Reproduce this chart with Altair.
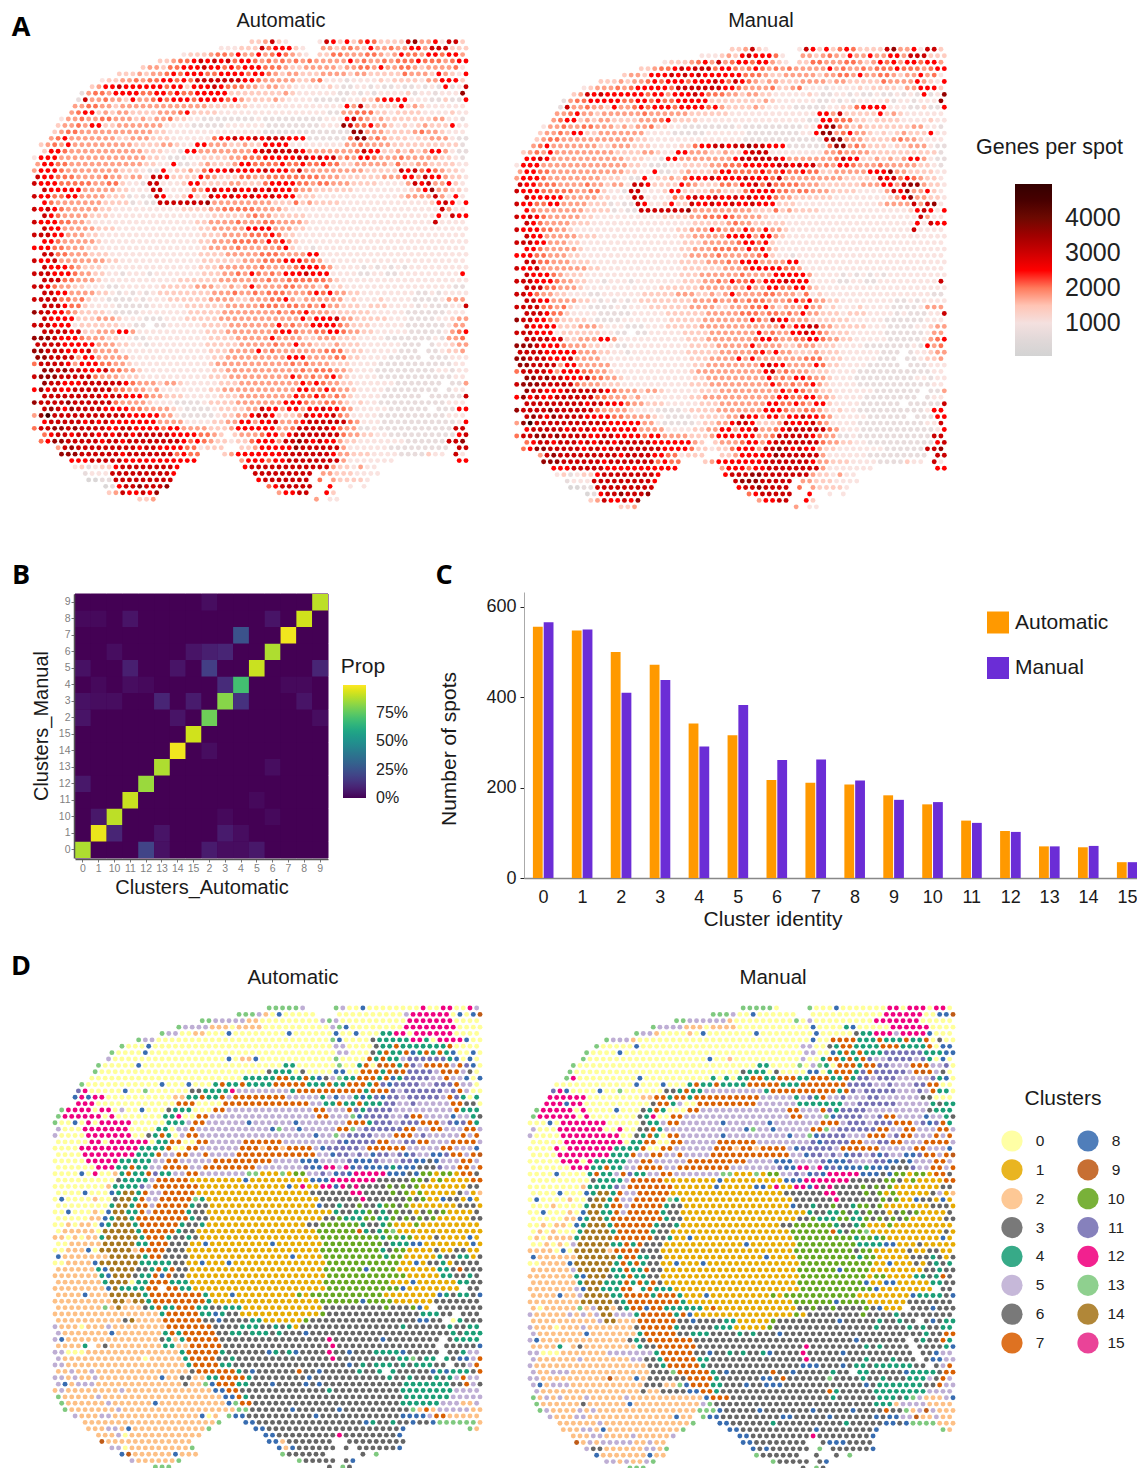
import altair as alt
import pandas as pd

# ---------- Panel A: expression level (0 grey ... 9 black) per spot, 64 columns per row
A_AUTO = """
........ ........ ........ ........ 334732.. ..276363 56533337 84462773
........ ........ ........ ...22233 37566632 ..443454 36445446 64777333
........ ........ ......23 33455464 46456543 2.335544 45543465 54665664
........ ........ ..334556 76767566 54545454 54444464 54454555 65554566
........ ........ 34435566 67665656 66555433 44444344 55464455 43444452
........ ....3334 34456566 65566665 66543443 33444434 43333354 44364326
........ ..233445 45566565 77777776 65444443 34522212 22232333 32446663
........ 34667666 66656636 66765554 43443322 22232112 21211211 21216127
.......1 45546666 55665655 66666333 33333432 22222112 12122223 12212228
......17 44544364 45656665 66665643 33343222 21111122 33566662 22113116
......44 55443444 44444444 44333333 22222222 22222264 73333363 43222222
.....456 63434433 33444563 33322222 22222222 22211445 55332333 32222322
....2445 44554443 43445332 21111111 12111111 11122267 54343333 33344221
...34454 66334444 44422221 11112222 22111111 11222875 56443232 34333622
...34554 44444444 44332222 22222222 22111111 11111118 84443333 45443222
..456444 44443344 43332222 22566766 76777666 11111158 84543332 33444211
.3454644 44444443 33344322 66444334 33666622 22222244 54444333 33333331
.3665444 44444444 33322166 44444444 67777776 44444445 76633434 34664211
26664444 44444444 43321112 23333445 55666667 76767454 66544454 44443321
46655444 44444444 33226112 34333466 55556556 55655334 44443533 44333322
46665444 44444333 21162334 35666766 66766657 44444444 43333376 75654332
76655544 44544344 27763333 65433355 44555555 55444333 33344466 47664332
76665555 54455322 17722236 63333443 33566665 54554443 33322224 76744632
.7666664 44443322 27722225 46766766 76766654 43333332 22222223 46844332
76655664 44433312 11762236 33766766 76676663 33222222 22222234 44474262
.6544444 44333312 11777777 78444444 44433353 43333222 22222222 22367626
76765444 44332222 22222233 33445555 54444322 22222222 22222222 22227422
.7654444 33322222 22222222 22333334 54433333 22222222 22222222 22262766
76665544 32222222 22222222 33444454 44554444 32222222 22222222 22272222
.7664444 43332222 22222222 33444446 66644433 22222222 22222222 22222222
77766444 33222222 22222222 23334444 55565332 22222222 22222222 22222222
.6654444 43222222 22222222 33444555 54656432 22222222 22222222 22222222
66655444 33222222 22222222 23444454 44445632 21222222 22222222 22222222
.7755444 33322222 22222222 33334444 45554444 66222222 22222222 22222222
76674444 44433222 22222222 23333334 44555666 55422222 22222222 22222222
.7666543 33222222 22222222 33344444 45444456 66542222 12121212 22222222
77766654 43322122 21222222 23334454 65454666 76662222 11221122 22222226
.7775544 43222222 22222333 33344444 44544555 55543222 22222222 22222222
77654433 22211222 22233333 44433434 64444554 44352322 22222222 22222211
.7766444 43321212 12333333 33444544 54555444 56564433 22222222 11212222
77775545 32211112 12223333 33444433 44455643 44444423 22232222 11112444
.7776553 22221111 12222233 33334444 45554554 54644333 23332222 12111227
87766543 33321111 22222223 33334444 44445455 64443333 33222221 11111222
.7666633 34443222 11122233 33344444 44444446 46667443 33332221 11122344
77766623 33333221 1.112222 23333444 44446454 46666543 33222221 11111244
.7777673 34446642 22222222 23334444 44456654 45566544 33222221 11112456
88876665 44433221 12222222 22333344 44464444 33444333 22221111 11121445
77776666 64443322 12222222 23333344 44454464 43334333 22222211 1.122344
88777666 74444222 22222222 22333444 46454444 44455533 32222211 1.112334
88777746 64444422 22222222 22334444 44444666 44445533 22221111 1.111222
57777646 66554432 22222222 22344444 44444454 54443332 22211111 11111122
.8878776 66755443 22222222 22334444 44444445 45554432 22111111 11122122
78887777 75444333 22222222 22333444 44444465 45456432 22211111 11111122
.8776667 77777654 44344322 22233344 44444446 56544332 22222111 1111.114
68676677 77775544 43422222 22334444 44444446 65565443 22221111 1111.122
.7777777 77677666 54433322 22233344 44444465 56545432 22211111 1.111117
87777877 77775444 43222111 12333344 44444666 54455432 32211111 11111222
.7876877 77666655 44443211 11233334 47664664 66766542 22221111 11.11166
48977777 77777766 66644211 11123344 67763334 76667542 22211111 11111222
.6777776 76766666 66444422 22334466 46674456 77777754 22211111 11111126
57788787 77766776 66656644 44333466 66664457 77776544 11211111 11111177
.5677677 76767767 77776666 5543.344 45664677 77777544 33221111 11111167
.5688777 77677677 77777765 65433233 56664778 76766433 22222221 11111778
...47877 77777776 77666655 2333..33 46666687 77777422 22221111 11111.77
....8887 77777677 77777565 5...3466 66666777 77776443 33222211 11322.72
.....666 77777666 66666666 ......46 66566777 77777422 22222... ......66
......23 12336777 777776.. .......6 77777777 77774332 422..... ........
.......1 22277777 77776... ........ 77777777 7.443332 222..... ........
........ 00117777 77777... ........ .6777777 7.5.4333 32...... ........
........ ..016778 7778.... ........ ..567777 7..6..2. 2....... ........
........ ...34766 768..... ........ ....4667 7..63... ........ ........
........ .......3 34...... ........ ........ .4.22... ........ ........
""".strip().split("\n")

A_MAN = """
........ ........ ........ ........ 334732.. ..276363 56533337 84462773
........ ........ ........ ...22234 36766652 ..443454 36446446 64777333
........ ........ ......23 33456474 56656643 2.335544 45543465 64665664
........ ........ ..334556 76777566 54565454 54444464 54454555 65554566
........ ........ 34436667 67676666 66555433 44444344 55464455 43446452
........ ....3334 34456566 65666765 76543443 33444434 43333354 44464326
........ ..234445 45666665 77777776 65444453 34522212 22232333 32446663
........ 34767666 66656646 66765554 43443322 22232112 21211211 21216128
.......1 45566666 55665655 66666333 33333432 22222112 12122223 12212228
......17 44544364 45656665 66665643 33343222 21111122 33566662 22113116
......44 56443444 44454444 44333333 22222222 22222664 73333363 43222222
.....456 63434433 33444563 33322222 22222222 22211665 55332333 32222322
....2445 44554443 43445332 21111111 12111111 11122678 54343333 33344221
...34454 66334444 44422221 11112222 22111111 11226884 56443232 34333622
...34554 44444444 44332222 22222222 22111111 11111178 84443333 45443222
..456444 44443344 43332222 33566776 77877666 11111158 84543332 33444211
.3454644 44444443 33344322 66444334 33677722 22222244 54444333 33333331
.6676444 44444444 33322166 44444444 67777776 44444445 76633434 34664211
26664444 44444444 43321112 23333445 55666667 76767454 66544454 44443321
46655444 44444444 33226112 34333466 55556556 55655334 44446668 44333322
46665444 44444333 21162334 35666766 66766657 44444444 43333376 75654332
76655544 44544344 27763333 65433355 46675755 55444333 33344466 47884332
76665555 54455322 17722236 63333443 33566665 54554443 33322224 76844632
.7666664 44443322 27722225 46766766 76766654 43333332 22222223 46844332
76655664 44433312 11762236 33766766 76676663 33222222 22222234 44474782
.6544444 44333312 11777777 78444444 44433353 43333222 22222222 22367626
76765444 44332222 22222233 33445556 54444322 22222222 22222222 22227422
.7654444 33322222 22222222 22333334 54433333 22222222 22222222 22262766
76665544 32222222 22222222 33444654 54654644 32222222 22222222 22272222
.7664444 43332222 22222222 33444446 66646643 22222222 22222222 22222222
77766444 33222222 22222222 23334444 45665632 22222222 22222222 22222222
.6654444 43222222 22222222 33444555 54656432 22222222 22222222 22222222
66655444 33222222 22222222 23444454 44445632 21222222 22222222 22222222
.7755444 33322222 22222222 33334445 46664444 66222222 22222222 22222222
76674444 44433222 22222222 23333334 44566666 55422222 22222222 22222222
.7666543 33222222 22222222 33344444 45444466 66642222 12121212 22222222
77766654 43322122 21222222 23334454 65564666 76662222 11221122 22222227
.7775544 43222222 22222333 33344444 44644665 56643222 22222222 22222222
77654433 22211222 22233333 44433434 64444554 44352322 22222222 22222211
.7766444 43321212 12333333 33444544 54555444 56564433 22222222 11212222
77775545 32211112 12223333 33444433 44455643 44464423 22232222 11112444
.7776553 22221111 12222233 33334444 45554554 54644333 23332222 12111227
87766543 33321111 22222223 33334444 44465476 64443333 33222221 11111222
.7666633 34443222 11122233 33344444 44444446 46677443 33332221 11122344
77766623 33333221 1.112222 23333444 44446454 46676543 33222221 11111244
.7777673 34446642 22222222 23334444 44456654 45566544 33222221 11112456
88876665 44433221 12222222 22333344 44464444 33444333 22221111 11121645
77776666 64443322 12222222 23333344 44456464 43334333 22222211 1.122344
88777666 74444222 22222222 22333444 46464444 44455533 32222211 1.112334
88777746 64444422 22222222 22334444 44446766 44446533 22221111 1.111222
57777646 66554432 22222222 22344444 44444674 54443332 22211111 11111122
.8878776 66755443 22222222 22334444 44444645 46654432 22111111 11122122
78887777 75444333 22222222 22333444 44444465 45456432 22211111 11111122
.8776667 77777654 44344322 22233344 44444446 56544332 22222111 1111.114
68676677 77775544 43422222 22334444 44444446 65566443 22221111 1111.122
.7777777 77677666 54433322 22233344 44444665 56546632 22211111 1.111117
87777877 77775444 43222111 12333344 44444666 54455432 32211111 11111266
.7876877 77666655 44443211 11233334 47664664 66766542 22221111 11.11166
48977777 77777766 66644211 11123344 67763334 76667542 22211111 11111227
.6777776 76766666 66444422 22334466 46674456 77777754 22211111 11111126
57788787 77766776 66656644 44333466 66664457 77776544 11211111 11111177
.5677677 76767767 77776666 6643.344 45664677 77777544 33221111 11111167
.5688777 77677677 77777766 66533233 56664778 76766433 22222221 11111778
...47877 77777776 77776655 2333..33 46666687 77777422 22221111 11111.77
....8887 77777677 77777565 5...3466 66666777 77776443 33222211 11322.72
.....666 77777666 66666666 ......46 66566777 77777422 22222... ......66
......23 12336777 777776.. .......6 77788777 77774332 422..... ........
.......1 22277777 77776... ........ 78887777 7.443332 222..... ........
........ 00117777 77777... ........ .6778777 7.5.4333 32...... ........
........ ..016778 7778.... ........ ..567777 7..6..2. 2....... ........
........ ...34766 768..... ........ ....4667 7..63... ........ ........
........ .......3 34...... ........ ........ .4.22... ........ ........
""".strip().split("\n")

# ---------- Panel D: cluster per spot (hex digit), 64 columns per row
D_AUTO = """
........ ........ ........ ........ ddddd5.. ..d50080 0000000c 00cc00c5
........ ........ ........ ...ddd52 0800000. ..000000 00005ccc ccc08089
........ ........ ......dd 55555220 00000000 5d500000 00000ccc cccc0000
........ ........ ..d55552 22022220 00000000 05d80000 0000cccc cccc0000
........ ........ d5500220 00800000 00080000 00800800 044cc0cc cccc0000
........ ....d550 00000000 00000000 00000000 0d800003 44444cc4 0cccc800
........ ..d00080 00000000 00000000 00000000 00550000 34474444 44470000
........ d0000800 00000000 00000000 00000000 00550003 47447847 47480080
........ 50000000 00000000 00802280 00000000 00d00007 47445bbb bbb48080
......d0 00008000 00000000 00000000 00440000 00d00470 97747b57 77757b80
......d0 00000000 00000000 00000000 34440300 00880077 74797bbb b5797530
.....000 00000000 00000000 00004444 47744748 35d44777 4784bbbb 55755808
....d000 00000000 80008000 47447444 47777744 47447774 7b8bbbb5 5bbb7550
...bc000 00800d00 00003344 44c55555 55547777 77777747 77b5bbbb bb5b7500
...8c8cc 00000000 00224474 47577777 77755555 45855484 b8bb5bbb bb57b404
...ccc00 00000000 00777000 07777777 77777755 44744744 4bb55b55 55577330
.dcccc0c c0500800 03444000 77555555 55555557 75557b4b bbb55555 55557444
dcccccc0 c0000000 44c00775 55555555 55555557 7555d8bb bb55b775 55585543
d0080c0c cccc0000 04445775 55555855 55558555 55557774 bbb5bbb7 775b8b74
5000cccc ccc00004 40557555 55555555 8d558555 5577d5bb bbbb7755 77555775
50000ccc cccc0034 74057755 55555555 55555558 55d5bbbb 5557775b 55555757
00000cc0 cccccc04 47700775 55557777 77555555 55b8bbbb 7755bb77 55577775
0000cccc ccccc444 47007755 55557772 77277775 8bbbbb57 77777555 55775558
0000cccc cccc4447 55775575 55577777 77777775 58bb5b58 bb5b8b55 88b77579
00000ccc cc444445 57755555 77777777 75555888 5555b888 b555bb88 38555775
000000cc c4474455 77775577 77777755 55555b88 cc5c8b88 88488833 3b557757
000080c0 0247447b 44557755 55555dd1 11d1aa55 b58b8ccc cc88838a a1aa1773
00000000 03444457 77771111 11118111 11111188 8ccccccc 33333aa3 1a111177
00000000 24444b57 77777711 11111111 11181c11 cc8c3c33 33a3a3a1 11111133
00008000 84ee4755 77777111 11111111 11111133 3333cc33 33a3a1a1 11113512
08000020 03ee4755 77777d41 11111111 11111111 333333c3 33333a3a 11833181
00000000 4ee47757 77774331 11111111 11111118 33433a33 4aa3a111 11113331
00800020 8ee44757 77774331 11111111 11111111 1143344a 343a3313 a3a11113
00000228 4ee47777 77774331 11111111 11111111 33a444aa 44a3a3a3 a1111133
00202208 4eee4777 77743341 11111111 11111133 aaaaaa43 34a111a1 11111111
0222220e eeee4777 77433111 11111111 1111111a aaaaa743 4ad11111 11111111
22020224 eeeee477 74334311 11111111 11111111 aaaaaaaa a4aa4a11 13111181
0022222e eeee4477 73331181 11111111 81111111 aaaaaaaa a3444881 11111181
0022280e eeee2777 73331111 11111111 11111111 aaaaaaaa a43aa111 13113311
82222222 eeeee477 33331111 11111111 11181111 aaaaaaaa a4aa1111 14334413
0022228e eeeee444 44331181 11811111 11111111 1aaaaaaa aaaa1181 33413333
22222248 eeee3347 47331111 11111111 11111111 aaaaaa8a aaa11111 14437333
22222224 8eee3447 87331111 11111111 11111111 1aaaaaaa aaaaa111 11443343
22222224 eee04477 74441111 11111111 11111111 aaaaaaaa aa111811 11114433
22222222 8e444477 .7744111 11111111 11111111 1aaaaaaa aaaa8111 11111.33
22228222 eeeee477 77777741 11811111 1111a1aa aaaaaaaa a1111111 18434438
22222222 2ee2ee47 77777774 11111111 11111111 aaaaaa8a aaa11111 13333333
2222222d 2e222347 44777443 34441111 11111111 33333333 3a333a81 .3333333
22222222 22222222 47777744 84331111 11111111 a3333333 33333334 4433.333
22222222 223e2222 77777733 83333441 11111a33 33333333 33333388 33.04333
52220222 52222222 27777777 33334443 34341333 33333333 33334333 33343344
52222222 82222222 47477777 33443444 34333833 33333333 33333333 33343444
58222222 22222222 34247777 73333333 33333333 3c333333 38333333 33.34444
22224.23 22222222 44227777 73333333 33333333 3c333333 33333333 3.333338
55000222 22222222 22247777 74333333 84348333 3c338333 44448333 33.33455
52222222 22222022 22247777 33433333 33333333 3c333333 33344d34 4.438857
55222222 22222222 22224777 74433333 33333333 33338343 44434344 433.3357
22522522 22222222 22223777 77743833 33337338 33333433 4.433333 84844437
55252252 22222222 82233224 47777433 33333383 33333333 33433433 34345755
58255522 22222222 222322d8 77744333 83333838 33333333 33334444 44433753
25222222 22522222 22222222 88773333 33333333 34333333 33334444 44445555
d2222252 22222222 22222222 28874333 33333333 33333333 33334444 44455555
.d222222 52222228 22222222 228d7733 33333333 33333333 33334444 44555225
.d222222 25222222 22222222 222dd333 33383333 33833333 33333d27 25555522
...52225 52222222 22222280 2.d88333 33333338 33333333 33338888 57722222
....2222 22222222 22222222 d...8833 33333333 33333384 33433833 8dddddd2
.....222 55282222 2222222d ......88 33333333 33333333 33338... ......d2
......22 25022222 222222.. .......8 83333333 33c33333 3338.... ........
.......9 22222222 22222... ........ 88233333 33..3333 33333... ........
........ 55022222 2222d... ........ .8283333 33.3.333 3338.... ........
........ ..892222 228222.. ........ ..d33333 3.....3. d....... ........
........ ...52222 22d..... ........ ....d333 33.38... ........ ........
........ .......d dd...... ........ ........ .3.d3... ........ ........
""".strip().split("\n")

D_MAN = """
........ ........ ........ ........ ddddd0.. ..d00080 000000cc 0ccc0cc0
........ ........ ........ ...ddd50 08000000 ..000000 00000ccc ccc00889
........ ........ ......dd 55555520 00000000 d0500000 0000cccc ccc00000
........ ........ ..d55552 22022220 00000000 00800004 800000cc cccc0000
........ ........ d5520000 20800000 00800000 00080000 0344ccc5 cccc8000
........ ...d5552 00000000 00000000 00000000 00800777 74447444 74470300
........ ..d00000 80000000 00000000 00000000 05500347 74444777 44447088
........ d0000800 00000000 00000000 00000000 05500847 47444bbb bbb44488
........ d0000000 00000000 00080020 00000000 05004774 747b55bb bb5b4080
......d0 00000000 00000000 00000000 00440000 d05d4077 7477bb55 577755b0
......d0 00000000 00000000 00000000 34440300 00880477 74b7bbbb b5797530
.....dc0 00000000 80000000 00040404 47744777 44777447 4bb5bbb5 5555b480
....0000 00000000 80008000 47447444 47777744 47777777 bbbb55b5 55bb7700
...bc800 00800d00 00003347 44555555 55547777 77777747 b5bbbbb5 55b57440
...ccccc c0000000 02277477 47777777 77755555 45b4755b 555bb555 55533000
..ccc8cc 00000000 00377450 07777777 77555555 44444445 5bbbbbb5 55554344
.dccccc0 c0000800 03474000 77555555 55555557 75557b4b bbb55555 55553444
dcccccc0 c0000000 34c00775 55555555 55555557 7555d8bb bb55b775 55585543
00080ccc cccc0000 03445775 55555855 55558555 55557775 bbb5bbb7 775b8b74
5000cccc ccc00c00 33745555 55555555 8d558555 5577d5bb bbbb7755 77555775
50000ccc cccccc00 34740775 55555855 55555558 55d8bbbb 5557775b 77555757
00000ccc cccccc04 47700775 55557777 77555555 55b8bbbb 7755bb77 55577775
0000c0cc ccccc444 47007755 55557772 77277775 8bbbbb57 77777555 55775558
0000cccc cccc4447 55775575 55577777 77777775 58bb5b58 bb5b8b55 88b77579
00000ccc 0c444445 57755555 77777777 75555888 5555b888 b555bb88 38555775
000000cc c4474455 77775577 77777755 55555b88 cc5c8b88 88488833 3b557757
00008000 0474457b 44557755 55555dd1 11d1aa55 b58b8ccc cc88838a a1aa1773
00000000 03444457 77771111 11118111 11111188 8ccccccc 33333aa3 1a111177
00000000 24444b57 77777711 11118111 11881c11 cc8c3c33 33a3a3a1 11111133
00008000 84ee4755 77777111 11111111 11111133 3333cc33 33a3a1a1 11113512
08000020 03ee4755 77777d41 11111111 11111111 333333c3 33333a3a 11833181
00020000 4ee47757 77774331 11111111 11111118 33433a33 4aa3a111 11113331
00800020 8ee44757 77774331 11111111 11111111 1143344a 343a3313 a3a11113
00000228 4ee47777 77774331 11111111 11111111 33a444aa 44a3a3a3 a1111133
00202208 4eee4777 77743341 11111111 11111133 aaaaaa43 34a111a1 11111111
02020004 eeee4777 77433111 11111111 1111111a aaaaa743 aad11111 11111131
02022224 eeeee777 77733411 81111111 11111111 aaaaaaaa a4aa4a11 11111181
0020205e eeee4474 73331111 11111111 81111111 aaaaaaaa a4444881 11311111
2222080e eeee2777 73331111 11111111 11111111 aaaaaaaa a3aa1111 13113311
8222222e eeeee477 44331111 11111111 11181111 aaaaaaaa a4aa1111 13334313
0022228e eeeee474 74331181 11811111 11111111 1aaaaaaa aaaa1181 11313434
2222225e eeee4474 47331111 11111111 11111111 aaaaaa8a aaa11111 11133433
22222224 8eee3447 44331111 11111111 11111111 1aaaaaaa aaa1aa11 11443473
22222224 eee44474 74731111 11111111 11111111 aaaaaaaa aa811881 11114433
22222225 8ee44477 .4744411 11111111 11111111 1aaaaaaa aaaa8111 11111.33
22228225 eeee4477 77477741 11811111 1111a1aa aaaaaaaa a1111111 18444438
22222222 eeeee347 77777774 11111111 11111111 aaaaaa8a aaa11111 13333333
2022222d 25ee2347 78774444 44171111 11111111 33a33a33 33a38111 .3338333
52222252 525ee555 47777747 81111111 11111111 a1333333 33a33334 33333333
22222222 225ee222 77777733 83333441 1111a333 33333383 33334334 33.38344
52220222 52222222 37777743 33334441 1111a333 33333333 33334333 34343344
52222222 82222222 47777733 44433334 34333833 33333333 33333333 33343377
58222222 22222223 43777777 73333333 33333333 33333333 38333333 3.343374
22224.23 22222222 43377777 73333333 33333333 3c333333 33434333 3.333348
55000222 22225555 55547777 73383343 43348333 3c333338 33333333 33.33855
52222225 22222225 53347777 74433333 33333333 3c333333 33433343 33.38855
52222222 22222222 22334777 77433333 33333333 38883338 34434444 4433.357
52255522 22222222 22333d77 77743833 33337338 33333433 .4433333 84444377
55222222 22229222 82333333 77774333 33388373 33333d33 33433433 34445375
58255522 22222222 233322d8 77744333 83388833 33333333 33834444 44433755
.5222222 22222222 23223333 88774333 33333333 33333743 33334444 44445555
d2525222 52222252 22222222 22877733 33333333 33333433 33334443 4d522258
.d222222 32222228 22222222 225d3333 33333333 33333333 33334442 55552222
.d522225 25222222 22222222 2ddd8333 33833333 33833333 83333733 d2595222
...52225 52222222 22222282 2.d88333 33333388 33333833 33338388 55922522
....2222 22522222 22222222 d...8833 33334333 33333334 33333883 8dddd222
.....222 55282222 2222222d ......88 33333333 33383333 33338... ......d2
......22 25522225 222225.. .......8 83333333 33c33333 3338.... ........
.......9 25255555 22522... ........ 88333333 33..3888 3333.... ........
........ 53322222 2552d... ........ .8383333 33.d.333 3338.... ........
........ ..822222 22822... ........ ..d33333 3..3..3. d....... ........
........ ...55252 25d..... ........ ....d333 33.38... ........ ........
........ .......d dd...... ........ ........ .3.d3... ........ ........
""".strip().split("\n")

# ---------- Panel B
B_ORDER = ["0", "1", "10", "11", "12", "13", "14", "15", "2", "3", "4", "5", "6", "7", "8", "9"]
B_DIAGONAL = [.88, .97, .90, .92, .85, .88, .98, .93, .78, .82, .70, .92, .88, .98, .93, .90]
B_OFF_X = ["2", "0", "1", "11", "6", "4", "10", "15", "2", "3", "0", "11", "14", "2", "9", "1", "11", "12", "3", "7", "8",
           "0", "1", "10", "13", "15", "4", "8", "0", "14", "9", "2", "6", "0", "5", "1", "3", "6", "10", "13", "3", "4",
           "12", "13", "2", "3", "4", "5"]
B_OFF_Y = ["9", "8", "8", "8", "8", "7", "6", "6", "6", "6", "5", "5", "5", "5", "5", "4", "4", "4", "4", "4", "4",
           "3", "3", "3", "3", "3", "3", "3", "2", "2", "2", "14", "13", "12", "11", "10", "10", "10", "1", "1", "1", "1",
           "0", "0", "0", "0", "0", "0"]
B_OFF_V = [.03, .02, .02, .05, .05, .25, .03, .05, .08, .10, .04, .08, .05, .18, .10, .02, .03, .02, .12, .02, .02,
           .04, .03, .03, .10, .07, .14, .05, .05, .05, .03, .03, .03, .06, .02, .06, .02, .02, .10, .05, .07, .03,
           .20, .04, .07, .03, .03, .06]

# ---------- Panel C
C_CLUSTERS = list(range(16))
C_AUTO = [556, 548, 500, 472, 342, 316, 217, 211, 207, 183, 163, 127, 104, 70, 68, 35]
C_MANUAL = [566, 550, 410, 438, 291, 383, 261, 262, 216, 173, 168, 122, 102, 70, 71, 35]
C_SERIES = ["Automatic", "Manual"]
C_COLORS = ["#ff9900", "#6b2dd6"]

# ---------- Shared scales
LEVEL_GENES = [350, 800, 1100, 1400, 1750, 2050, 2500, 3050, 3600, 4600]
GENE_STOPS = [57, 800, 1150, 1500, 2000, 2500, 3500, 4200, 4970]
GENE_COLORS = ["#d3d3d3", "#e8dcdc", "#fde4e0", "#ffc4b4", "#ff7a5c", "#ff0000", "#a00000", "#5a0a00", "#000000"]
CLUSTER_CODES = list("0123456789abcdef")
CLUSTER_NAMES = [str(i) for i in range(16)]
CLUSTER_COLORS = ["#ffff99", "#e6ab02", "#fdc086", "#666666", "#1b9e77", "#beaed4", "#666666", "#d95f02",
                  "#386cb0", "#bf5b17", "#66a61e", "#7570b3", "#f0027f", "#7fc97f", "#a6761d", "#e7298a"]

FONT = "Liberation Sans"
OFF = 8


def parse(rows):
    out = []
    for r, row in enumerate(rows[:73]):
        chars = row.replace(" ", "")[:64]
        for c, ch in enumerate(chars):
            if ch != ".":
                out.append({"col": c + (0.5 if r % 2 else 0), "row": r, "code": ch})
    return pd.DataFrame(out)


def x_enc(left, right):
    return alt.X("col:Q", axis=None, scale=alt.Scale(domain=[0, 63.5], range=[left - OFF, right - OFF], nice=False, zero=False))


def y_enc(top, bottom):
    return alt.Y("row:Q", axis=None, scale=alt.Scale(domain=[0, 72], range=[top - OFF, bottom - OFF], nice=False, zero=False))


def gene_panel(rows, box, show_legend):
    df = parse(rows)
    df["genes"] = [LEVEL_GENES[int(v)] for v in df["code"]]
    legend = alt.Legend(title=None, orient="none", legendX=1015 - OFF, legendY=184 - OFF, gradientLength=172,
                        gradientThickness=37, values=[1000, 2000, 3000, 4000], format="d", labelFontSize=25, labelFont=FONT,
                        labelColor="#222222", labelOffset=13, labelOverlap=False) if show_legend else None
    return alt.Chart(df).mark_circle(size=24, opacity=1, strokeWidth=0).encode(
        x=x_enc(box[0], box[1]), y=y_enc(box[2], box[3]),
        color=alt.Color("genes:Q", legend=legend, scale=alt.Scale(domain=GENE_STOPS, range=GENE_COLORS)),
    )


def cluster_panel(rows, box):
    df = parse(rows)
    df["cluster"] = [CLUSTER_NAMES[CLUSTER_CODES.index(v)] for v in df["code"]]
    return alt.Chart(df).mark_circle(size=24, opacity=1, strokeWidth=0).encode(
        x=x_enc(box[0], box[1]), y=y_enc(box[2], box[3]),
        color=alt.Color("cluster:N", legend=None, scale=alt.Scale(domain=CLUSTER_NAMES, range=CLUSTER_COLORS)),
    )


def label(text, x, y, size=20, weight="normal", font=FONT, angle=0, align="center", color="#1a1a1a"):
    return alt.Chart(pd.DataFrame({"t": [text]})).mark_text(
        fontSize=size, fontWeight=weight, font=font, angle=angle, align=align, baseline="middle", color=color
    ).encode(x=alt.value(x - OFF), y=alt.value(y - OFF), text="t:N")


W, H = 1129, 1460

# Panel B
b_df = pd.concat([
    pd.DataFrame({"a": B_ORDER, "m": B_ORDER, "prop": B_DIAGONAL}),
    pd.DataFrame({"a": B_OFF_X, "m": B_OFF_Y, "prop": B_OFF_V}),
])
b_all = pd.MultiIndex.from_product([B_ORDER, B_ORDER], names=["a", "m"]).to_frame(index=False)
b_df = b_all.merge(b_df, how="left", on=["a", "m"]).fillna({"prop": 0})
b_axis = dict(grid=False, ticks=True, tickSize=3, tickColor="#777777", labelColor="#7f7f7f", labelFontSize=10.5, labelFont=FONT,
              domainColor="#555555", domainWidth=1.5, labelAngle=0, title=None, labelPadding=1, labelOverlap=False)
b_x_scale = alt.Scale(domain=B_ORDER, range=[75 - OFF, 328 - OFF], paddingInner=0, paddingOuter=0)
b_y_scale = alt.Scale(domain=B_ORDER[::-1], range=[594 - OFF, 858 - OFF], paddingInner=0, paddingOuter=0)
heat_base = alt.Chart(b_df).mark_rect(color="#440154", stroke="#440154", strokeWidth=1).encode(
    x=alt.X("a:O", sort=B_ORDER, axis=None, scale=b_x_scale),
    y=alt.Y("m:O", sort=B_ORDER[::-1], axis=None, scale=b_y_scale),
)
heat = alt.Chart(b_df).mark_rect().encode(
    x=alt.X("a:O", sort=B_ORDER, axis=alt.Axis(orient="bottom", offset=-(H - (859 - OFF)), **b_axis), scale=b_x_scale),
    y=alt.Y("m:O", sort=B_ORDER[::-1], axis=alt.Axis(orient="left", offset=-(74 - OFF), **b_axis), scale=b_y_scale),
    color=alt.Color("prop:Q", scale=alt.Scale(scheme="viridis", domain=[-0.001, 1]),
                    legend=alt.Legend(title=None, orient="none", legendX=343 - OFF, legendY=685 - OFF, gradientLength=113,
                                      gradientThickness=23, values=[0, .25, .5, .75], format=".0%", labelFontSize=16,
                                      labelFont=FONT, labelColor="#222222", labelOffset=10, labelOverlap=False)),
)

# Panel C
c_df = pd.DataFrame({"cluster": C_CLUSTERS, "auto": C_AUTO, "man": C_MANUAL})
c_x_scale = alt.Scale(domain=[-0.488, 15.488], range=[524 - OFF, 1146 - OFF], nice=False, zero=False, padding=0)
c_x = alt.X("cluster:Q", axis=alt.Axis(orient="bottom", offset=-(H - (878 - OFF)), values=C_CLUSTERS, grid=False, title=None,
                                       format="d", labelFontSize=18, labelFont=FONT, labelColor="#1a1a1a", domainColor="#888888",
                                       domainWidth=1.5, ticks=False, labelPadding=10, labelFlush=False, labelOverlap=False),
            scale=c_x_scale)
c_y = alt.Scale(domain=[0, 633], range=[878 - OFF, 592 - OFF], nice=False, padding=0)
y_axis = alt.Axis(orient="left", offset=-(524 - OFF), values=[0, 200, 400, 600], grid=False, title=None, labelFontSize=18,
                  labelFont=FONT, labelColor="#1a1a1a", domainColor="#aaaaaa", tickColor="#222222", tickSize=4, labelPadding=4,
                  labelFlush=False, labelOverlap=False)
bars_auto = alt.Chart(c_df).mark_bar(size=9.8, xOffset=-5.2, color=C_COLORS[0]).encode(
    x=c_x, y=alt.Y("auto:Q", axis=y_axis, scale=c_y))
bars_man = alt.Chart(c_df).mark_bar(size=9.8, xOffset=5.6, color=C_COLORS[1]).encode(
    x=alt.X("cluster:Q", axis=None, scale=c_x_scale),
    y=alt.Y("man:Q", axis=None, scale=c_y))

c_leg = pd.DataFrame({"name": C_SERIES, "i": [0, 1]})
c_leg_x = alt.X("i:Q", axis=None, scale=alt.Scale(domain=[0, 1], range=[998 - OFF, 998 - OFF + 0.001], zero=False, nice=False))
c_leg_y = alt.Y("i:Q", axis=None, scale=alt.Scale(domain=[0, 1], range=[622.5 - OFF, 668 - OFF], zero=False, nice=False))
c_legend_marks = alt.Chart(c_leg).mark_square(size=484, opacity=1, strokeWidth=0).encode(
    x=c_leg_x, y=c_leg_y,
    color=alt.Color("name:N", legend=None, scale=alt.Scale(domain=C_SERIES, range=C_COLORS)),
)
c_legend_text = alt.Chart(c_leg).mark_text(align="left", baseline="middle", dx=17, fontSize=21, font=FONT, color="#1a1a1a").encode(
    x=c_leg_x, y=c_leg_y, text="name:N")

# Panel D legend
d_leg = pd.DataFrame({"name": CLUSTER_NAMES, "lx": [i // 8 for i in range(16)], "ly": [i % 8 for i in range(16)]})
d_leg_x = alt.X("lx:Q", axis=None, scale=alt.Scale(domain=[0, 1], range=[1012 - OFF, 1088 - OFF], zero=False, nice=False))
d_leg_y = alt.Y("ly:Q", axis=None, scale=alt.Scale(domain=[0, 7], range=[1141 - OFF, 1343 - OFF], zero=False, nice=False))
d_legend_marks = alt.Chart(d_leg).mark_circle(size=450, opacity=0.88, strokeWidth=0).encode(
    x=d_leg_x, y=d_leg_y,
    color=alt.Color("name:N", legend=None, scale=alt.Scale(domain=CLUSTER_NAMES, range=CLUSTER_COLORS)),
)
d_legend_text = alt.Chart(d_leg).mark_text(align="center", baseline="middle", dx=28, fontSize=15.5, font=FONT, color="#222222").encode(
    x=d_leg_x, y=d_leg_y, text="name:N")

layers = [
    gene_panel(A_AUTO, (34.3, 466, 41.7, 505.7), True),
    gene_panel(A_MAN, (516.7, 944.3, 49.3, 513.3), False),
    heat_base, heat, bars_auto, bars_man, c_legend_marks, c_legend_text,
    cluster_panel(D_AUTO, (55, 480, 1008, 1467)),
    cluster_panel(D_MAN, (530, 953, 1008, 1468)),
    d_legend_marks, d_legend_text,
    label("A", 21, 28, 27, "bold", "Open Sans", color="#000000"),
    label("B", 21, 576, 27, "bold", "Open Sans", color="#000000"),
    label("C", 444, 576, 27, "bold", "Open Sans", color="#000000"),
    label("D", 21, 967, 27, "bold", "Open Sans", color="#000000"),
    label("Automatic", 281, 20.5, 20),
    label("Manual", 761, 20.5, 20),
    label("Genes per spot", 976, 147.5, 21.5, align="left"),
    label("Prop", 363, 666.5, 21),
    label("Clusters_Manual", 42, 726, 20, angle=270),
    label("Clusters_Automatic", 202, 887.5, 20),
    label("Number of spots", 450, 749, 21, angle=270),
    label("Cluster identity", 773, 919.5, 21),
    label("Automatic", 293, 977.5, 20.5),
    label("Manual", 773, 977.5, 20.5),
    label("Clusters", 1063, 1098.5, 21),
]

chart = alt.layer(*layers).resolve_scale(
    x="independent", y="independent", color="independent"
).properties(width=W, height=H, padding=0, autosize=alt.AutoSizeParams(type="none"), background="white").configure_view(stroke=None)

chart.save("out.html", embed_options={"renderer": "svg", "actions": False})
